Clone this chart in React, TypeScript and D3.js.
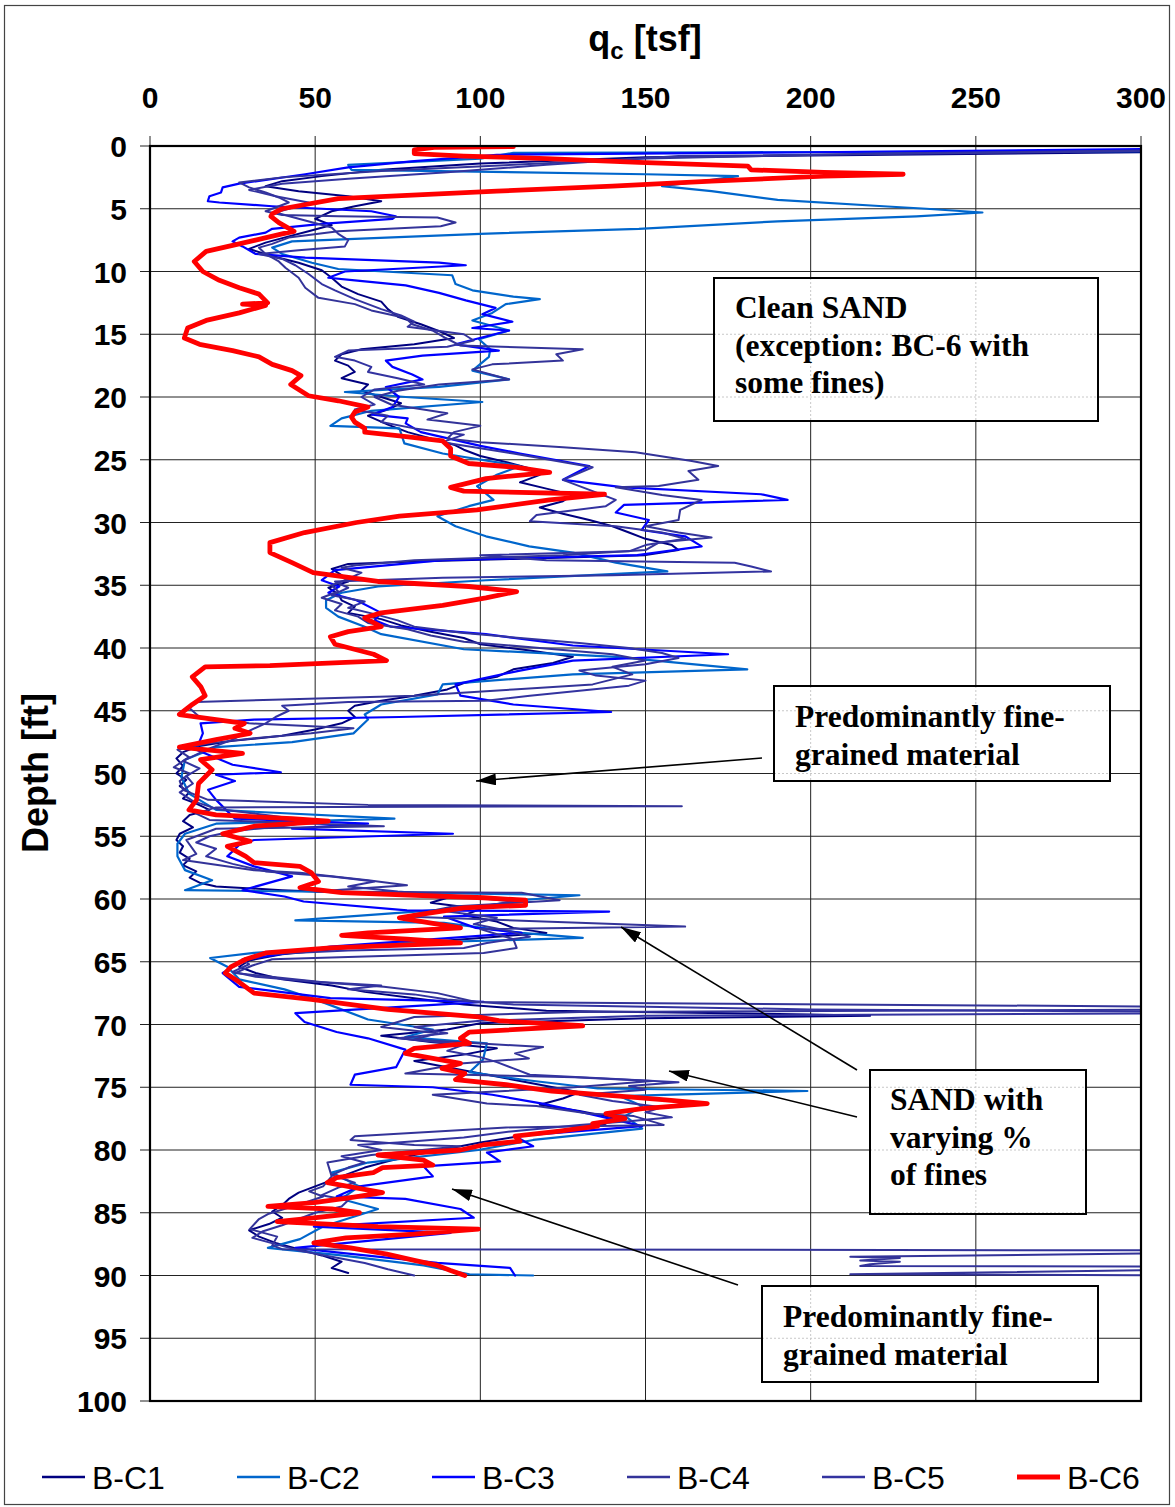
import React from "react";
import * as d3 from "d3";

// depth [ft], qc [tsf]
const BC1: [number, number][] = [[0.25,320],[0.45,320],[0.9,150],[1.4,100],[1.9,70],[2.4,52],[2.8,40],[3.2,35],[3.6,45],[4.0,60],[4.4,70],[4.8,62],[5.2,55],[5.8,50],[6.3,55],[6.8,48],[7.2,42],[7.7,35],[8.2,30],[8.7,36],[9.3,45],[9.9,52],[10.5,55],[11.2,58],[11.8,63],[12.4,70],[13.0,72],[13.6,75],[14.2,82],[14.8,88],[15.3,92],[15.8,80],[16.2,64],[16.6,58],[17.1,56],[17.5,60],[18.0,62],[18.5,58],[19.0,66],[19.5,64],[20.0,70],[20.5,76],[21.0,72],[21.5,66],[22.2,72],[22.8,78],[23.3,85],[23.8,92],[24.2,95],[24.7,100],[25.2,108],[25.7,115],[26.2,118],[26.8,112],[27.3,120],[27.8,128],[28.3,125],[28.8,118],[29.3,125],[29.8,133],[30.3,140],[30.8,145],[31.3,150],[31.8,158],[32.2,160],[32.6,150],[32.9,110],[33.1,80],[33.3,60],[33.7,55],[34.2,58],[34.7,60],[35.2,54],[35.7,57],[36.2,58],[36.7,62],[37.2,60],[37.7,70],[38.2,76],[38.7,85],[39.2,95],[39.7,100],[40.2,115],[40.7,128],[41.2,122],[41.7,110],[42.3,105],[42.8,95],[43.3,90],[43.8,80],[44.2,70],[44.6,62],[45.0,60],[45.5,62],[46.0,58],[46.5,50],[47.0,40],[47.4,25],[47.8,15],[48.3,10],[48.8,8],[49.4,10],[50.0,8],[50.5,11],[51.0,9],[51.5,12],[52.0,10],[52.4,14],[52.9,18],[53.3,12],[53.8,10],[54.3,13],[54.8,9],[55.3,8],[55.8,10],[56.3,9],[56.8,12],[57.3,10],[57.8,14],[58.3,12],[58.7,15],[59.0,20],[59.3,40],[59.6,70],[59.9,90],[60.3,85],[60.8,100],[61.3,95],[61.8,105],[62.3,110],[62.7,120],[63.1,100],[63.5,80],[63.9,60],[64.4,40],[64.9,30],[65.4,27],[65.9,32],[66.4,40],[66.9,55],[67.4,65],[67.9,80],[68.4,95],[68.9,120],[69.2,200],[69.3,218],[69.5,150],[69.9,100],[70.4,90],[70.9,70],[71.4,85],[71.9,105],[72.4,95],[72.9,80],[73.4,90],[73.9,100],[74.4,110],[74.9,120],[75.4,130],[75.9,125],[76.4,118],[76.9,130],[77.4,140],[77.9,138],[78.4,125],[78.9,112],[79.4,100],[79.9,90],[80.4,80],[80.9,72],[81.4,65],[81.9,60],[82.4,55],[82.9,50],[83.4,45],[83.9,42],[84.4,40],[84.9,37],[85.4,40],[85.9,36],[86.4,30],[86.9,33],[87.4,38],[87.9,45],[88.4,52],[88.9,58],[89.4,55],[89.8,60]];

const BC2: [number, number][] = [[0.4,320],[0.5,180],[0.55,110],[1.0,100],[1.5,60],[1.9,61],[2.25,150],[2.4,178],[2.7,170],[3.2,155],[3.6,170],[4.3,190],[4.8,222],[5.0,235],[5.3,252],[5.6,232],[6.0,190],[6.6,148],[7.0,100],[7.6,43],[8.1,37],[8.6,40],[9.3,49],[9.8,57],[10.3,91.5],[11,92.5],[11.5,97.6],[12.0,110],[12.2,118],[12.6,107.7],[13.3,103.6],[13.9,97.6],[14.7,108.7],[15.4,99.6],[16.2,103],[16.8,102.6],[17.9,97.6],[18.6,108.7],[19.2,87.5],[19.6,59],[20,77.4],[20.4,100.6],[21.1,67],[21.7,58],[22.3,54.6],[22.5,75.5],[23.7,77],[24.5,88.6],[25.5,112],[26.2,105],[27.1,99],[28.2,104],[28.7,96.5],[29.5,87],[30.3,92.5],[31.1,101.7],[31.9,114.8],[32.4,128],[33.2,141],[33.9,156.6],[34.6,101.7],[35.1,69],[35.6,58],[36.2,53.3],[36.8,53.3],[37.5,57],[38.3,65],[38.9,70],[40.1,95],[40.7,141],[41.7,180.8],[42.1,128],[42.9,88.6],[43.7,87],[44.5,70],[45.3,65],[45.7,66],[46.8,61.6],[47.5,43],[47.9,20],[48.9,10.6],[50.3,9.5],[51.6,11.8],[52.9,20],[53.6,74],[54.0,20],[54.8,10.6],[55.6,8.3],[56.6,8.3],[57.7,10.6],[58.5,18.8],[59.3,10.6],[59.5,77.8],[59.7,130],[60.1,112.5],[60.6,101],[61.2,70],[61.7,44],[61.9,89],[62.7,112.5],[63.1,131],[63.5,77.8],[64.3,31.5],[64.7,18.2],[65.4,23.4],[66.4,27],[67.2,40.7],[68,50],[69.6,66],[70.4,85.6],[71,77.3],[71.5,102],[72.8,100.8],[73.8,96.7],[74.4,113],[75.1,135.5],[75.3,199],[75.7,142],[76.5,149],[77.3,143.8],[78.3,149],[79.2,116],[80,99.4],[81,66],[81.8,55],[82.9,63.4],[83.9,57.9],[84.7,69],[86.1,52.4],[87.1,45.4],[87.8,35.7],[88.4,57.9],[89.2,82.8],[89.9,96.7],[90,116]];

const BC3: [number, number][] = [[0.2,320],[0.5,200],[0.7,105],[1.2,80],[1.7,60],[2.25,47],[3,27],[3.3,22],[3.7,21.5],[4,18],[4.4,17.5],[4.5,21],[4.8,37],[5.2,67],[5.6,74.4],[5.8,73.4],[6.2,52],[6.6,37],[6.9,35],[7.3,27],[7.6,25],[8,28],[8.6,32],[8.9,47],[9.3,87.5],[9.5,95.6],[10,59],[10.5,54],[10.7,62],[11.1,77.4],[11.7,87.5],[12.3,95.6],[12.9,104.6],[13.4,100.6],[14,109.7],[14.5,97.6],[14.7,108.7],[15.8,92.5],[16.3,105.6],[16.7,82.5],[17.1,71.4],[17.6,73.4],[18.2,79.4],[18.6,82.5],[19.2,71.4],[20,75.4],[20.8,73.4],[21.4,67.3],[21.7,78],[22.1,77.4],[22.8,82],[23.9,100],[24.5,112],[25.5,133],[26.6,125],[27.2,143.5],[27.75,185],[28.2,193],[28.6,143.5],[29.2,141],[29.8,151],[30.6,148.8],[31.1,162],[31.9,167],[32.6,147.5],[33,88.6],[33.8,56],[34.6,52],[35.1,57.3],[35.6,54],[36.2,62.5],[37.2,70],[37.8,68],[38.3,73],[38.9,101.7],[39.8,128],[40.5,175],[41,128],[41.8,112],[42.9,92.5],[43.8,94],[44.5,110],[45.1,139.6],[45.5,75.5],[45.7,31.5],[46,15.3],[46.8,16],[48.1,14],[49.3,25],[49.9,39.6],[50.1,20],[50.6,25.7],[51.3,17.6],[52.1,20],[53.6,25.7],[54,66],[54.4,43],[54.8,91.7],[55.3,31.5],[55.7,27],[56.6,23.4],[57.4,31.5],[58.2,43],[59.3,28],[59.8,40.7],[60.2,46.5],[60.9,77.8],[61.0,139],[61.4,89],[62.3,98.6],[62.7,112.5],[63.8,54.6],[64.8,29],[65.9,22],[67,27],[67.9,54.6],[68.2,101],[69.1,44],[69.8,46.8],[70.6,56.5],[71.1,66],[72,77.3],[73.4,74.5],[74,62],[74.8,60.7],[75,85.6],[75.6,103.6],[76.3,118.8],[77.1,132.7],[78.1,149],[78.9,110.5],[79.7,116],[80.2,102],[80.9,106],[81.3,82.8],[82.1,85.6],[82.9,63.4],[83.7,56.5],[83.9,77.3],[84.7,94],[85.4,98],[86.1,49.6],[86.6,91],[87.8,44],[88.2,57.9],[89,87],[89.4,109],[90,110.5]];

const BC4: [number, number][] = [[0.1,320],[0.3,320],[0.6,220],[1.0,150],[1.5,110],[2.0,70],[2.5,40],[2.9,27],[3.3,30],[3.7,35],[4.1,39],[4.5,42],[5.0,37],[5.2,35],[5.5,40],[5.6,57],[5.7,87],[6.1,92.5],[6.4,88],[6.8,57],[7.3,42],[7.8,37],[8.1,33],[8.6,35],[9.2,39],[9.7,41],[10.5,45],[11.3,47],[12.1,51],[12.6,62],[13.1,67],[13.7,77.4],[14.2,79.4],[14.7,85.5],[15.3,89.5],[15.9,94],[16.2,131],[16.6,123],[17.1,125],[17.4,103.6],[17.8,97.6],[18.6,108.7],[19.0,87.5],[19.5,75],[20.0,68],[20.6,73],[21.3,90],[21.8,84],[22.3,100],[22.8,92],[23.3,90],[23.6,100],[24.0,125],[24.4,147],[25.1,164],[25.5,172],[25.9,163],[26.6,166],[27.1,154],[27.2,141],[27.8,155],[28.2,167],[29.0,160.5],[29.8,160],[30.3,150],[30.8,160],[31.2,170],[31.6,154],[32.2,150],[32.6,125],[33.0,80],[33.4,62.5],[33.6,58],[34.0,64],[34.5,60],[35.0,55],[35.5,57],[36.0,52],[36.5,58],[37.0,56],[37.5,63],[38.0,66],[38.5,78],[39.0,85],[39.5,95],[40.0,118],[40.5,140],[41.0,150],[41.5,140],[42.1,146],[42.5,140],[42.9,134],[43.3,110],[43.8,80],[44.1,40],[44.3,14],[44.8,12],[45.5,15],[46.0,30],[46.4,61.6],[46.8,48.8],[47.2,31.5],[47.6,17.6],[48.1,8.3],[48.7,11.8],[49.5,7.2],[50,12],[50.6,9],[51.3,10],[52.1,17.6],[52.5,66],[52.6,161],[52.7,20],[53.2,14],[53.7,18],[54.2,70.8],[54.4,20],[55.3,11],[56.4,14],[56.9,10],[57.7,31.5],[57.9,45.4],[58.5,66],[58.9,77.8],[59.4,50],[59.5,112.5],[60.1,124],[60.6,91.7],[61.4,77],[62.2,162],[62.4,100],[63.2,110],[63.9,111],[64.3,101],[64.8,37],[65.3,31],[65.9,25.7],[66.7,54.6],[67.0,70.8],[67.5,87],[68.2,98.6],[68.6,320],[68.8,320],[69.0,130],[69.4,80],[70.2,70],[70.7,87],[71.2,80],[71.8,119],[72.3,110.5],[72.7,114.7],[73.1,94],[73.5,85.6],[73.9,77.3],[74.2,128.5],[74.5,152],[75,128.5],[75.6,85.6],[76.3,102],[76.5,117],[77.1,132.7],[77.3,146.5],[78,155.5],[78.2,107.8],[78.9,62],[79.2,60.7],[79.6,80],[79.7,94],[80.4,67],[81,53.7],[82.1,55],[82.9,52.4],[83.3,48.2],[83.7,52.4],[84.2,46.8],[85.1,35.7],[85.5,33],[86.3,30.2],[86.9,38.5],[87.6,37],[87.9,40],[88.0,320],[88.2,320],[88.5,212],[88.6,227],[88.8,215],[88.9,227],[89.1,218],[89.25,215],[89.3,320],[89.5,320],[89.9,212],[90.0,320]];

const BC5: [number, number][] = [[0.15,320],[0.35,320],[0.8,160],[1.5,120],[2.1,90],[2.6,60],[3.0,40],[3.5,30],[4.0,38],[4.5,48],[5.0,42],[5.3,38],[5.8,45],[6.5,55],[7.0,57],[7.5,60],[8.0,59],[8.3,45],[8.6,33],[9.0,40],[9.5,44],[10.2,48],[11.0,52],[11.5,56],[12.2,62],[13.0,70],[13.5,76],[14.0,80],[14.4,78],[15.0,95],[15.5,98],[16.0,90],[16.3,60],[16.8,56],[17.1,62],[17.6,67],[18.0,66],[18.5,75],[19.0,83],[19.4,68],[20.0,64],[20.6,68],[21.0,62],[21.5,72],[22.0,70],[22.5,80],[23.0,95],[23.6,88.6],[24.5,110],[25.6,134],[26.6,125],[27.4,133],[28.2,141],[28.7,138],[29.4,117],[29.9,115],[30.3,141],[30.8,155],[31.3,162],[31.8,150],[32.3,145],[32.6,100],[33.0,120],[33.2,177],[33.5,182],[33.9,188],[34.2,140],[34.4,88.6],[34.7,56],[35.2,60],[35.8,55],[36.3,65],[36.8,60],[37.3,68],[37.8,75],[38.3,80],[38.8,95],[39.2,112],[39.6,130],[40.0,145],[40.4,155],[40.8,160],[41.3,150],[41.8,130],[42.2,135],[42.6,150],[43.0,145],[43.4,130],[43.8,115],[44.2,101.7],[44.3,60],[44.6,40],[45.0,42],[45.5,38],[46.0,35],[46.6,30],[47.3,25],[48.0,18],[48.5,14],[49.0,10],[49.6,15],[50.2,11],[50.8,13],[51.5,9],[52.2,13],[52.8,20],[53.3,35],[53.8,50],[54.2,40],[54.6,25],[55.0,18],[55.5,14],[56.0,20],[56.6,17],[57.2,25],[57.8,35],[58.2,55],[58.6,68],[59.0,60],[59.4,75],[59.8,95],[60.2,110],[60.6,100],[61.0,90],[61.5,105],[62.0,98],[62.5,108],[63.0,115],[63.5,102],[63.9,95],[64.1,60],[64.4,35],[64.8,28],[65.2,30],[65.8,25],[66.2,32],[66.6,50],[66.9,70],[67.2,60],[67.6,80],[68.0,90],[68.4,110],[68.8,200],[69.0,320],[69.1,320],[69.3,150],[69.7,100],[70.2,80],[70.7,90],[71.1,75],[71.6,95],[72.1,90],[72.6,100],[73.0,105],[73.5,110],[74.0,115],[74.3,138],[74.6,160],[74.9,145],[75.2,150],[75.6,130],[76.1,140],[76.6,155],[77.0,150],[77.4,158],[77.7,145],[78.0,130],[78.5,110],[79.0,95],[79.4,75],[79.6,63],[80.0,70],[80.5,58],[81.0,65],[81.4,60],[82.0,55],[82.6,62],[83.0,57],[83.6,52],[84.0,60],[84.5,58],[85.0,50],[85.5,45],[86.0,40],[86.5,34],[87.0,31],[87.5,38],[88.0,45],[88.5,55],[89.0,65],[89.5,72],[90.0,80]];

const BC6: [number, number][] = [[0.05,110],[0.1,86],[0.3,80],[0.6,80],[0.8,95],[1.0,120],[1.3,148],[1.6,181],[1.9,182],[2.1,204],[2.25,228],[2.4,204],[2.8,170],[3.2,140],[3.6,105],[4.2,57],[5.0,40],[5.4,37],[5.6,36.6],[6.1,39],[6.8,43.6],[7.0,40],[7.8,27],[8.4,17],[9.2,13.4],[10,16],[10.7,21],[11.3,27],[11.8,33],[12.5,35.6],[12.6,28],[12.7,35],[13.3,27],[13.9,17],[14.5,11.4],[15.3,10.4],[15.8,15],[16.3,25],[16.8,33],[17.4,37],[17.9,43],[18.3,45.7],[19,42.6],[19.9,48],[20.3,57],[20.8,66],[21.2,62],[21.6,61],[22,62],[22.5,65],[22.8,65],[23.1,75.5],[23.5,88.6],[24.1,91],[24.7,91],[25.3,96.5],[25.6,111],[26,121],[26.5,101.7],[27.2,91],[27.5,95],[27.75,137.6],[28.2,121],[29,99],[29.5,75.5],[30,62.5],[30.8,46.8],[31.6,36.3],[32.4,36.3],[33.2,43],[34,49.4],[34.7,69],[35.1,96.5],[35.5,111],[36,101.7],[36.6,88.6],[37.2,70],[37.6,65],[38.3,70],[38.7,60],[39.1,54.6],[39.7,56],[40.5,67.7],[41,71.6],[41.4,36.3],[41.5,16.7],[42.3,12.8],[43.1,15.4],[43.8,16.7],[44.5,12.8],[45.3,8.9],[45.7,20],[46,28.6],[46.4,25.7],[46.8,30.3],[47.3,20],[47.9,8.9],[48.4,28],[48.9,15.3],[49.7,18.8],[50.8,14.7],[52.1,14.1],[52.9,11.8],[53.3,20],[53.6,43],[53.8,54],[54.2,31.5],[54.8,22],[55.4,30.3],[55.8,23.4],[56.6,29],[57.1,31.5],[57.4,45.4],[57.9,48.8],[58.6,51],[59.1,45.4],[59.5,58],[59.9,101],[60.1,113.7],[60.5,113.7],[60.7,95],[61.3,80],[61.5,75.5],[61.9,84.7],[62.3,94],[62.7,66],[62.9,58],[63.2,77.8],[63.5,94],[63.9,54.6],[64.3,35],[64.8,29],[65.4,24.5],[65.9,22.8],[66.6,26.9],[67.5,31.5],[68,48.8],[68.8,72],[69.4,99.4],[69.7,105.6],[70.1,131],[70.6,96.7],[71.1,94],[71.5,96.7],[71.9,80],[72.3,77.3],[72.7,85.6],[73.1,94],[73.5,88.4],[73.9,95.3],[74.4,92.5],[74.8,107.8],[75.3,121.6],[75.7,142],[76,156],[76.3,168.7],[76.7,149],[77.1,138],[77.5,143.8],[77.9,134],[78.1,135.5],[78.5,124],[78.9,110.5],[79.3,112],[79.6,100.8],[80,94],[80.4,69],[80.8,82.8],[81.2,85.6],[81.4,70.4],[81.8,67.6],[82.2,56.5],[82.6,53.7],[83,62],[83.4,70.4],[83.8,60.7],[84.2,49.6],[84.5,35.7],[84.7,55],[85,63.4],[85.4,49.6],[85.7,38.5],[86.1,69],[86.3,99.4],[86.7,80],[87,59.3],[87.4,49.6],[87.8,60.7],[88.3,71.7],[88.8,80],[89.2,87],[89.6,91],[90,95.3]];

const SERIES_NAMES = ["B-C1", "B-C2", "B-C3", "B-C4", "B-C5", "B-C6"];
const SERIES_DATA = [BC1, BC2, BC3, BC4, BC5, BC6];
const SERIES_COLORS = ["#000080", "#0066CC", "#0000FF", "#333399", "#3333A0", "#FF0000"];
const SERIES_WIDTHS = [2, 2.2, 2.2, 2, 2, 4.8];

const X_TICKS = [0, 50, 100, 150, 200, 250, 300];
const Y_TICKS = [0, 5, 10, 15, 20, 25, 30, 35, 40, 45, 50, 55, 60, 65, 70, 75, 80, 85, 90, 95, 100];

const NOTES = [
  { lines: ["Clean SAND", "(exception: BC-6 with", "some fines)"], box: [714, 278, 384, 143], tx: 735, ty: 318 },
  { lines: ["Predominantly fine-", "grained material"], box: [774, 686, 336, 95], tx: 795, ty: 727 },
  { lines: ["SAND with", "varying %", "of fines"], box: [870, 1070, 216, 144], tx: 890, ty: 1110 },
  { lines: ["Predominantly fine-", "grained material"], box: [762, 1286, 336, 96], tx: 783, ty: 1327 },
];
const ARROWS = [
  [762, 758, 476, 781],
  [857, 1070, 621, 927],
  [857, 1117, 669, 1071],
  [738, 1285, 452, 1189],
];

export default function App() {
  const W = 1175, H = 1507;
  const L = 150, R = 1141, T = 146, B = 1401;
  const x = d3.scaleLinear().domain([0, 300]).range([L, R]);
  const y = d3.scaleLinear().domain([0, 100]).range([T, B]);
  const line = d3.line<[number, number]>().x((d) => x(d[1])).y((d) => y(d[0]));
  const sans = "'Liberation Sans', Arial, Helvetica, sans-serif";
  const serif = "'Liberation Serif', 'Times New Roman', serif";

  return (
    <div style={{ position: "absolute", left: 0, top: 0, background: "#fff" }}>
      <svg width={W} height={H} viewBox={`0 0 ${W} ${H}`} style={{ display: "block" }}>
        <defs>
          <clipPath id="plot">
            <rect x={L} y={T} width={R - L} height={B - T} />
          </clipPath>
          <clipPath id="boxes">
            {NOTES.map((n, i) => (
              <rect key={i} x={n.box[0]} y={n.box[1]} width={n.box[2]} height={n.box[3]} />
            ))}
          </clipPath>
          <marker id="ah" viewBox="0 0 20 12" refX="20" refY="6" markerWidth="20" markerHeight="12" markerUnits="userSpaceOnUse" orient="auto">
            <path d="M0,0 L20,6 L0,12 z" fill="#000" />
          </marker>
        </defs>
        <rect x={0} y={0} width={W} height={H} fill="#fff" />
        <rect x={4.5} y={5.5} width={1165} height={1499} fill="none" stroke="#444" strokeWidth={1.2} />

        {/* grid */}
        {X_TICKS.map((t) => (
          <line key={"gx" + t} x1={x(t)} x2={x(t)} y1={T - 10} y2={B} stroke="#222" strokeWidth={1} />
        ))}
        {Y_TICKS.map((t) => (
          <line key={"gy" + t} x1={L - 10} x2={R} y1={y(t)} y2={y(t)} stroke="#222" strokeWidth={1} />
        ))}

        {/* series */}
        <g clipPath="url(#plot)">
          {SERIES_DATA.map((data, i) => (
            <path key={SERIES_NAMES[i]} d={line(data) || ""} fill="none" stroke={SERIES_COLORS[i]}
              strokeWidth={SERIES_WIDTHS[i]} strokeLinejoin="round" strokeLinecap="round" />
          ))}
        </g>

        {/* frame */}
        <rect x={L} y={T} width={R - L} height={B - T} fill="none" stroke="#000" strokeWidth={2.2} />

        {/* tick labels */}
        {X_TICKS.map((t) => (
          <text key={"tx" + t} x={x(t)} y={108} textAnchor="middle" fontFamily={sans} fontWeight="bold" fontSize={30}>{t}</text>
        ))}
        {Y_TICKS.map((t) => (
          <text key={"ty" + t} x={127} y={y(t) + 11} textAnchor="end" fontFamily={sans} fontWeight="bold" fontSize={30}>{t}</text>
        ))}

        {/* titles */}
        <text x={645} y={51} textAnchor="middle" fontFamily={sans} fontWeight="bold" fontSize={36}>
          q<tspan fontSize={24} dy={8}>c</tspan><tspan dy={-8}> [tsf]</tspan>
        </text>
        <text transform={`translate(48,${773}) rotate(-90)`} textAnchor="middle" fontFamily={sans} fontWeight="bold" fontSize={36}>Depth [ft]</text>

        {/* arrows */}
        {ARROWS.map((a, i) => (
          <line key={"ar" + i} x1={a[0]} y1={a[1]} x2={a[2]} y2={a[3]} stroke="#000" strokeWidth={1.6} markerEnd="url(#ah)" />
        ))}

        {/* annotation boxes */}
        {NOTES.map((n, i) => (
          <rect key={"nb" + i} x={n.box[0]} y={n.box[1]} width={n.box[2]} height={n.box[3]} fill="#fff" stroke="#000" strokeWidth={2} />
        ))}
        <g clipPath="url(#boxes)">
          {X_TICKS.map((t) => (
            <line key={"bgx" + t} x1={x(t)} x2={x(t)} y1={T} y2={B} stroke="#c8c8c8" strokeWidth={1} strokeDasharray="2,2" />
          ))}
          {Y_TICKS.map((t) => (
            <line key={"bgy" + t} x1={L} x2={R} y1={y(t)} y2={y(t)} stroke="#c8c8c8" strokeWidth={1} strokeDasharray="2,2" />
          ))}
        </g>
        {NOTES.map((n, i) => (
          <rect key={"nb2" + i} x={n.box[0]} y={n.box[1]} width={n.box[2]} height={n.box[3]} fill="none" stroke="#000" strokeWidth={2} />
        ))}
        {NOTES.map((n, i) => (
          <text key={"nt" + i} fontFamily={serif} fontWeight="bold" fontSize={31.5}>
            {n.lines.map((s, j) => (
              <tspan key={j} x={n.tx} y={n.ty + j * 37.5}>{s}</tspan>
            ))}
          </text>
        ))}

        {/* legend */}
        {SERIES_NAMES.map((name, i) => {
          const lx = 42 + i * 195;
          return (
            <g key={"lg" + name}>
              <line x1={lx} x2={lx + 43} y1={1477} y2={1477} stroke={SERIES_COLORS[i]} strokeWidth={i === 5 ? 5 : 2.5} />
              <text x={lx + 50} y={1489} fontFamily={sans} fontSize={32}>{name}</text>
            </g>
          );
        })}
      </svg>
    </div>
  );
}
